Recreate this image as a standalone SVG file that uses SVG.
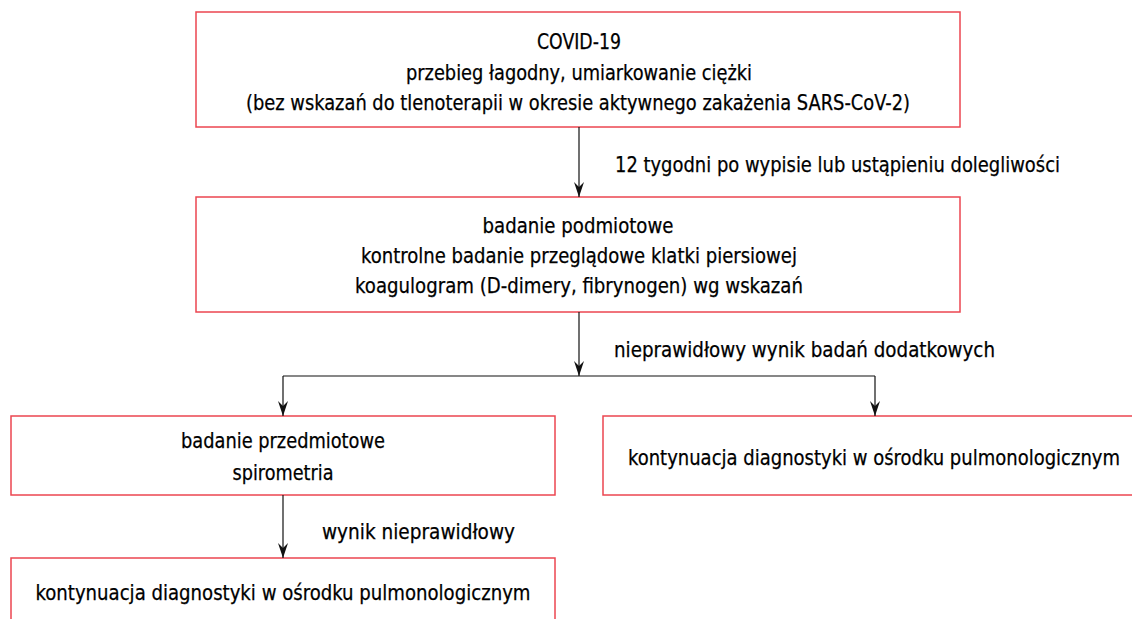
<svg xmlns="http://www.w3.org/2000/svg" width="1132" height="619" viewBox="0 0 1132 619">
<defs>
<style>
.box{fill:#ffffff;stroke:#ec4650;stroke-width:1.5}
.t{font-family:"Liberation Sans Narrow","DejaVu Sans Condensed","Liberation Sans",sans-serif;font-stretch:condensed;font-size:22px;fill:#000000;stroke:#000000;stroke-width:0.25}
.c{text-anchor:middle}
.ln{fill:none;stroke:#111111;stroke-width:1.2}
</style>
<marker id="ah" markerUnits="userSpaceOnUse" markerWidth="17" markerHeight="12" viewBox="-16 -6 17 12" refX="0" refY="0" orient="auto">
<path d="M-15,-5 L0,0 L-15,5 L-10,0 Z" fill="#111111"/>
</marker>
</defs>
<rect width="1132" height="619" fill="#ffffff"/>
<g id="n1">
<rect class="box" x="196" y="12" width="764" height="115"/>
<text class="t c" x="579" y="49" textLength="84" lengthAdjust="spacingAndGlyphs">COVID-19</text>
<text class="t c" x="579" y="80" textLength="346" lengthAdjust="spacingAndGlyphs">przebieg łagodny, umiarkowanie ciężki</text>
<text class="t c" x="578" y="110" textLength="664" lengthAdjust="spacingAndGlyphs">(bez wskazań do tlenoterapii w okresie aktywnego zakażenia SARS-CoV-2)</text>
</g>
<g id="n2">
<rect class="box" x="196" y="197" width="764" height="115"/>
<text class="t c" x="578" y="233" textLength="191" lengthAdjust="spacingAndGlyphs">badanie podmiotowe</text>
<text class="t c" x="579" y="263" textLength="436" lengthAdjust="spacingAndGlyphs">kontrolne badanie przeglądowe klatki piersiowej</text>
<text class="t c" x="579" y="293" textLength="448" lengthAdjust="spacingAndGlyphs">koagulogram (D-dimery, fibrynogen) wg wskazań</text>
</g>
<g id="n3">
<rect class="box" x="11" y="416" width="544" height="79"/>
<text class="t c" x="283" y="448" textLength="204" lengthAdjust="spacingAndGlyphs">badanie przedmiotowe</text>
<text class="t c" x="283" y="480" textLength="101" lengthAdjust="spacingAndGlyphs">spirometria</text>
</g>
<g id="n4">
<rect class="box" x="603" y="416" width="544" height="79"/>
<text class="t c" x="874" y="465" textLength="492" lengthAdjust="spacingAndGlyphs">kontynuacja diagnostyki w ośrodku pulmonologicznym</text>
</g>
<g id="n5">
<rect class="box" x="11" y="558" width="544" height="79"/>
<text class="t c" x="283" y="600" textLength="495" lengthAdjust="spacingAndGlyphs">kontynuacja diagnostyki w ośrodku pulmonologicznym</text>
</g>
<g id="connectors">
<line class="ln" x1="579" y1="127" x2="579" y2="197" marker-end="url(#ah)"/>
<line class="ln" x1="579" y1="312" x2="579" y2="376" marker-end="url(#ah)"/>
<line class="ln" x1="283" y1="376" x2="875" y2="376"/>
<line class="ln" x1="283" y1="376" x2="283" y2="416" marker-end="url(#ah)"/>
<line class="ln" x1="875" y1="376" x2="875" y2="416" marker-end="url(#ah)"/>
<line class="ln" x1="283" y1="495" x2="283" y2="558" marker-end="url(#ah)"/>
<text class="t" x="615" y="172" textLength="445" lengthAdjust="spacingAndGlyphs">12 tygodni po wypisie lub ustąpieniu dolegliwości</text>
<text class="t" x="614" y="357" textLength="381" lengthAdjust="spacingAndGlyphs">nieprawidłowy wynik badań dodatkowych</text>
<text class="t" x="322" y="539" textLength="193" lengthAdjust="spacingAndGlyphs">wynik nieprawidłowy</text>
</g>
</svg>
